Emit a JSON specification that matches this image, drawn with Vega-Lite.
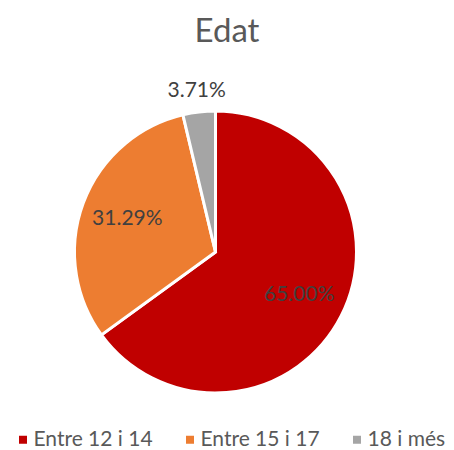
{
  "$schema": "https://vega.github.io/schema/vega-lite/v6.json",
  "width": 431,
  "height": 330,
  "autosize": {"type": "none"},
  "padding": {"left": 0, "top": 87, "right": 23, "bottom": 33},
  "background": "white",
  "config": {"view": {"stroke": null}, "font": "Lato"},
  "title": {
    "text": "Edat",
    "fontSize": 33,
    "font": "Lato",
    "fontWeight": "normal",
    "color": "#595959",
    "anchor": "middle",
    "dx": 11.5,
    "offset": 31
  },
  "data": {
    "values": [
      {"category": "Entre 12 i 14", "value": 0.65, "ordre": 1},
      {"category": "Entre 15 i 17", "value": 0.3129, "ordre": 2},
      {"category": "18 i més", "value": 0.0371, "ordre": 3}
    ]
  },
  "encoding": {
    "theta": {"field": "value", "type": "quantitative", "stack": true},
    "order": {"field": "ordre", "type": "quantitative"},
    "color": {
      "field": "category",
      "type": "nominal",
      "scale": {
        "domain": ["Entre 12 i 14", "Entre 15 i 17", "18 i més"],
        "range": ["#C00000", "#ED7D31", "#A5A5A5"]
      },
      "legend": {
        "title": null,
        "orient": "none",
        "direction": "horizontal",
        "legendX": 12.5,
        "legendY": 342,
        "padding": 0,
        "symbolType": "square",
        "symbolSize": 64,
        "symbolStrokeWidth": 0,
        "labelFontSize": 21,
        "labelFont": "Lato",
        "labelColor": "#595959",
        "labelOffset": 0,
        "columnPadding": 26,
        "labelLimit": 0
      }
    }
  },
  "layer": [
    {"mark": {"type": "arc", "outerRadius": 141, "stroke": "white", "strokeWidth": 3}},
    {
      "mark": {"type": "text", "radius": 94, "fontSize": 21, "font": "Lato", "baseline": "middle", "align": "center"},
      "encoding": {
        "color": {"value": "#404040"},
        "detail": {"field": "category", "type": "nominal"},
        "text": {"condition": {"test": "datum.category !== '18 i més'", "field": "value", "format": ".2%"}, "value": ""}
      }
    },
    {
      "mark": {"type": "text", "radius": 162, "fontSize": 21, "font": "Lato", "baseline": "middle", "align": "center"},
      "encoding": {
        "color": {"value": "#404040"},
        "detail": {"field": "category", "type": "nominal"},
        "text": {"condition": {"test": "datum.category === '18 i més'", "field": "value", "format": ".2%"}, "value": ""}
      }
    }
  ]
}
